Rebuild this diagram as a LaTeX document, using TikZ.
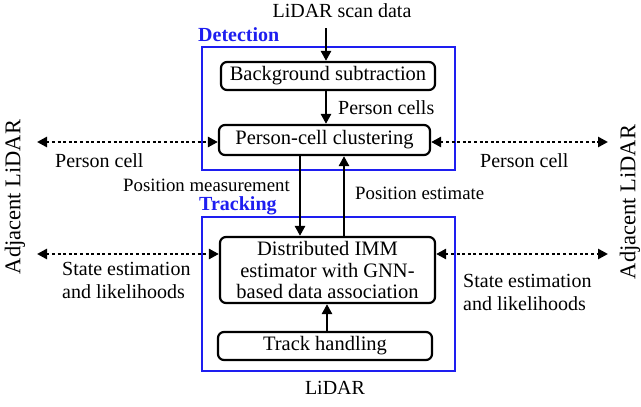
\documentclass[tikz,border=0pt]{standalone}
\usepackage{fontspec}
\setmainfont{Liberation Serif}
\usetikzlibrary{arrows.meta}
\definecolor{myblue}{RGB}{30,30,240}
\begin{document}
\begin{tikzpicture}[x=1pt,y=-1pt,
  txt/.style={font=\fontsize{20}{23}\selectfont, inner sep=0pt},
  stxt/.style={font=\fontsize{18.8}{21}\selectfont, inner sep=0pt},
  blk/.style={draw, line width=2.2pt, rounded corners=6pt, font=\fontsize{20.5}{21.5}\selectfont, inner sep=0pt, align=center},
  grp/.style={draw=myblue, line width=1.8pt},
  grplabel/.style={text=myblue, font=\fontsize{20}{22}\selectfont\bfseries, inner sep=0pt, anchor=west},
  arr/.style={line width=2.6pt, -{Triangle[length=10pt,width=10pt]}},
  darr/.style={line width=2.8pt, dash pattern=on 3pt off 2.6pt, {Triangle[length=10pt,width=10pt]}-{Triangle[length=10pt,width=10pt]}}
]
\useasboundingbox (0,0) rectangle (641,407);
% groups
\draw[grp] (202,47) rectangle (455,170);
\draw[grp] (202,217) rectangle (455,371);
\node[grplabel] (detl) at (198,35) {Detection};
\node[grplabel] (trkl) at (199,206) {Tracking};
% blocks
\node[blk, minimum width=214pt, minimum height=28pt] (bg) at (328,76) {Background subtraction};
\node[blk, minimum width=211pt, minimum height=30pt] (cl) at (324.5,140) {Person-cell clustering};
\node[blk, minimum width=215pt, minimum height=66pt] (dimm) at (327.5,270) {Distributed IMM\\estimator with GNN-\\based data association};
\node[blk, minimum width=214pt, minimum height=28pt] (th) at (325,346) {Track handling};
% texts
\node[txt] (scan) at (342,11) {LiDAR scan data};
\coordinate (scanend) at (326,28);
\node[txt] (lidar) at (335,388) {LiDAR};
\node[txt, anchor=west] (pcells) at (338,108) {Person cells};
\node[stxt, anchor=east] (pm) at (290,185) {Position measurement};
\node[stxt, anchor=west] (pe) at (355,193) {Position estimate};
\node[txt, rotate=90] (adjl) at (15,197) {\fontsize{22.5}{24}\selectfont Adjacent LiDAR};
\node[txt, rotate=90] (adjr) at (630,202) {\fontsize{22.5}{24}\selectfont Adjacent LiDAR};
\node[txt, anchor=west] (pcl) at (55,161) {Person cell};
\node[txt, anchor=west] (pcr) at (480,161) {Person cell};
\node[txt, anchor=west, align=left] (sel) at (62,280) {State estimation\\and likelihoods};
\node[txt, anchor=west, align=left] (ser) at (463,292) {State estimation\\and likelihoods};
\coordinate (lpc) at (37,142);
\coordinate (rpc) at (608,142);
\coordinate (lse) at (37,254);
\coordinate (rse) at (608,254);
% arrows
\draw[arr] (scanend) -- (bg.north -| scanend);
\draw[arr] (bg.south -| scanend) -- (cl.north -| scanend);
\draw[arr] (cl.south -| 300,0) -- (dimm.north -| 300,0);
\draw[arr] (dimm.north -| 344,0) -- (cl.south -| 344,0);
\draw[arr] (th.north -| 327,0) -- (dimm.south -| 327,0);
\draw[darr] (lpc) -- (cl.west |- lpc);
\draw[darr] (cl.east |- rpc) -- (rpc);
\draw[darr] (lse) -- (dimm.west |- lse);
\draw[darr] (dimm.east |- rse) -- (rse);
\end{tikzpicture}
\end{document}
